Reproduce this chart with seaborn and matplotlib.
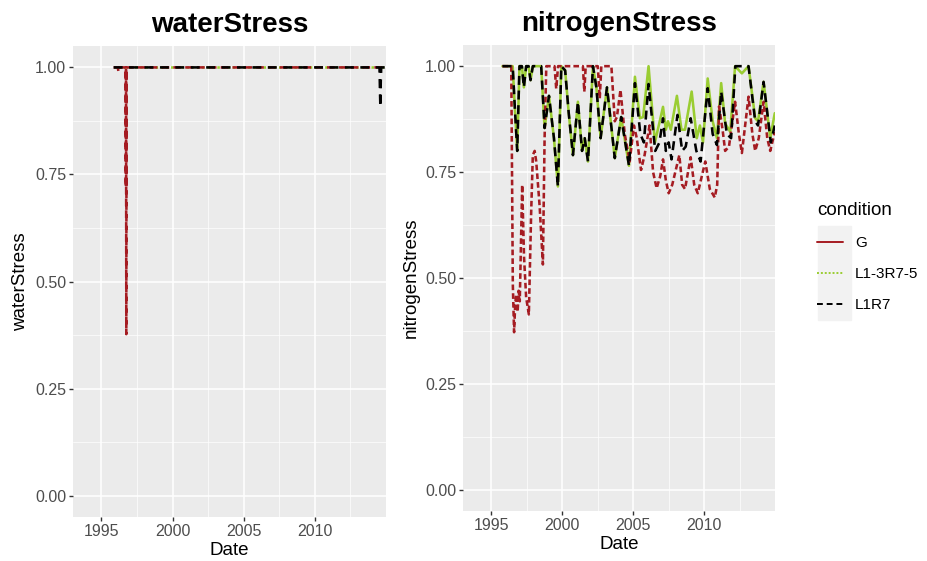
import matplotlib
matplotlib.use("Agg")
import matplotlib.pyplot as plt
from matplotlib.lines import Line2D
from matplotlib.patches import Rectangle
import pandas as pd
import seaborn as sns

conditions = ["G", "L1-3R7-5", "L1R7"]
palette = {"G": "#A51C22", "L1-3R7-5": "#9ACD32", "L1R7": "#000000"}

# --- waterStress ---
water_g_date = [1995.86, 1996.15, 1996.20, 1996.25, 1996.70, 1996.72, 1996.73,
                1996.74, 1996.75, 1996.76, 1996.78, 2014.95]
water_g_val = [1.0, 1.0, 0.99, 1.0, 1.0, 0.72, 1.0, 0.72, 0.377, 0.72, 1.0, 1.0]
water_l135_date = [1995.86, 2014.95]
water_l135_val = [1.0, 1.0]
water_l1r7_date = [1995.86, 2014.55, 2014.58, 2014.61, 2014.64, 2014.67, 2014.95]
water_l1r7_val = [1.0, 1.0, 0.95, 0.908, 0.97, 1.0, 1.0]

# --- nitrogenStress ---
nitro_g_date = [1995.78, 1996.40, 1996.51, 1996.60, 1996.68, 1996.75, 1996.85,
                1996.92, 1997.00, 1997.17, 1997.30, 1997.45, 1997.64, 1997.80,
                1997.92, 1998.05, 1998.16, 1998.40, 1998.63, 1998.75, 1998.87,
                1999.45, 1999.57, 1999.70, 2001.45, 2001.55, 2001.65, 2002.50,
                2002.64, 2002.75, 2003.46, 2003.70, 2003.85, 2004.10, 2004.40,
                2004.75, 2005.05, 2005.25, 2005.55, 2005.80, 2006.15, 2006.40,
                2006.65, 2006.90, 2007.10, 2007.30, 2007.50, 2007.75, 2008.25,
                2008.45, 2008.65, 2009.05, 2009.30, 2009.55, 2010.08, 2010.40,
                2010.75, 2010.92, 2011.05, 2011.30, 2011.48, 2011.75, 2012.18,
                2012.45, 2012.66, 2013.13, 2013.40, 2013.60, 2013.85, 2014.19,
                2014.45, 2014.66, 2014.98]
nitro_g_val = [1.0, 1.0, 0.485, 0.372, 0.44, 0.461, 0.42,
               0.47, 0.445, 0.72, 0.55, 0.454, 0.414, 0.65,
               0.79, 0.80, 0.775, 0.67, 0.532, 0.83, 1.0,
               1.0, 0.947, 1.0, 1.0, 0.94, 1.0, 1.0,
               0.924, 1.0, 1.0, 0.87, 0.88, 0.944, 0.84,
               0.775, 0.86, 0.83, 0.755, 0.79, 0.86, 0.75,
               0.712, 0.74, 0.78, 0.73, 0.70, 0.72, 0.79,
               0.72, 0.71, 0.785, 0.72, 0.70, 0.775, 0.71,
               0.69, 0.72, 0.905, 0.85, 0.80, 0.81, 0.916,
               0.84, 0.795, 0.928, 0.84, 0.80, 0.83, 0.916,
               0.83, 0.80, 0.845]

shared_date = [1995.78, 1996.50, 1996.63, 1996.82, 1996.98, 1997.15, 1997.29,
               1997.45, 1997.62, 1997.76, 1997.92, 1998.51, 1998.75, 1999.06,
               1999.41, 1999.69, 1999.93, 2000.20, 2000.45, 2000.75, 2001.10,
               2001.39, 2001.58, 2001.81, 2002.16, 2002.40, 2002.70, 2003.15,
               2003.70, 2004.15, 2004.70]
shared_val = [1.0, 1.0, 0.916, 0.80, 1.0, 1.0, 0.95,
              1.0, 1.0, 0.967, 1.0, 1.0, 0.854, 0.93,
              0.83, 0.716, 1.0, 0.99, 0.89, 0.79, 0.916,
              0.80, 0.83, 0.775, 1.0, 0.95, 0.83, 0.95,
              0.783, 0.88, 0.765]

nitro_l135_date = shared_date + [2005.12, 2005.47, 2005.70, 2006.08, 2006.53,
                                 2006.80, 2007.10, 2007.30, 2007.45, 2007.65,
                                 2008.08, 2008.40, 2008.65, 2009.12, 2009.48,
                                 2009.70, 2009.92, 2010.25, 2010.60, 2010.90,
                                 2011.20, 2011.48, 2011.84, 2012.18, 2012.66,
                                 2013.13, 2013.60, 2013.80, 2014.19, 2014.66,
                                 2014.98]
nitro_l135_val = shared_val + [0.975, 0.877, 0.88, 1.0, 0.82,
                               0.86, 0.904, 0.85, 0.87, 0.85,
                               0.93, 0.85, 0.85, 0.94, 0.83,
                               0.86, 0.82, 0.971, 0.87, 0.83,
                               0.96, 0.865, 0.845, 1.0, 0.983,
                               1.0, 0.877, 0.87, 0.963, 0.83,
                               0.889]

nitro_l1r7_date = shared_date + [2005.12, 2005.50, 2005.75, 2006.08, 2006.55,
                                 2006.85, 2007.10, 2007.30, 2007.50, 2007.70,
                                 2008.12, 2008.45, 2008.70, 2009.05, 2009.45,
                                 2009.75, 2010.25, 2010.60, 2010.90, 2011.20,
                                 2011.60, 2011.90, 2012.20, 2012.66, 2013.13,
                                 2013.60, 2013.80, 2014.19, 2014.70, 2014.98]
nitro_l1r7_val = shared_val + [0.96, 0.84, 0.82, 0.958, 0.80,
                               0.82, 0.877, 0.80, 0.82, 0.78,
                               0.885, 0.80, 0.81, 0.877, 0.80,
                               0.775, 0.948, 0.84, 0.814, 0.94,
                               0.84, 0.83, 1.0, 1.0, 1.0,
                               0.87, 0.86, 0.963, 0.82, 0.86]


def long_frame(name, series):
    parts = []
    for cond, (d, v) in series.items():
        parts.append(pd.DataFrame({"Date": d, name: v, "condition": cond}))
    return pd.concat(parts, ignore_index=True)


water = long_frame("waterStress", {
    "L1-3R7-5": (water_l135_date, water_l135_val),
    "G": (water_g_date, water_g_val),
    "L1R7": (water_l1r7_date, water_l1r7_val),
})
nitro = long_frame("nitrogenStress", {
    "L1-3R7-5": (nitro_l135_date, nitro_l135_val),
    "G": (nitro_g_date, nitro_g_val),
    "L1R7": (nitro_l1r7_date, nitro_l1r7_val),
})

sns.set_style("darkgrid", {"axes.facecolor": "#EBEBEB", "grid.color": "white"})
plt.rcParams["font.family"] = ["Liberation Sans", "DejaVu Sans"]
plt.rcParams["text.color"] = "black"
plt.rcParams["axes.labelcolor"] = "black"

fig = plt.figure(figsize=(9.27, 5.61), dpi=100)
ax1 = fig.add_axes([0.0787, 0.0784, 0.3376, 0.8396])
ax2 = fig.add_axes([0.4995, 0.0891, 0.3366, 0.8307])

order = ["L1-3R7-5", "G", "L1R7"]
water_dashes = {"G": (3, 1.6), "L1-3R7-5": (1, 1), "L1R7": (3.5, 2.5)}
nitro_dashes = {"G": (2.2, 1.2), "L1-3R7-5": "", "L1R7": (3.5, 2.2)}

for ax, df, col, dashes in [(ax1, water, "waterStress", water_dashes),
                            (ax2, nitro, "nitrogenStress", nitro_dashes)]:
    sns.lineplot(data=df, x="Date", y=col, hue="condition", style="condition",
                 hue_order=order, style_order=order, palette=palette,
                 dashes=dashes, estimator=None, linewidth=1.85, legend=False, ax=ax)
    ax.set_xlim(1993.0, 2015.0)
    ax.set_ylim(-0.05, 1.05)
    ax.set_xticks([1995, 2000, 2005, 2010])
    ax.set_xticks([1997.5, 2002.5, 2007.5, 2012.5], minor=True)
    ax.set_yticks([0, 0.25, 0.5, 0.75, 1.0])
    ax.set_yticklabels(["0.00", "0.25", "0.50", "0.75", "1.00"])
    ax.set_yticks([0.125, 0.375, 0.625, 0.875], minor=True)
    ax.grid(which="major", color="white", linewidth=1.1)
    ax.grid(which="minor", color="white", linewidth=0.5)
    ax.set_axisbelow(True)
    for s in ax.spines.values():
        s.set_visible(False)
    ax.tick_params(which="major", bottom=True, left=True, length=3, width=1,
                   color="#333333", labelcolor="#4D4D4D", labelsize=11.5, pad=2)
    ax.tick_params(which="minor", bottom=False, left=False, length=0)
    ax.set_title(col, fontsize=20, fontweight="bold", pad=10)
    ax.set_xlabel("Date", fontsize=13.5, labelpad=2)
    ax.set_ylabel(col, fontsize=13.5, labelpad=4)

handles = [Line2D([], [], color=palette["G"], lw=1.4, ls="-"),
           Line2D([], [], color=palette["L1-3R7-5"], lw=1.4, ls=(0, (1, 1))),
           Line2D([], [], color=palette["L1R7"], lw=1.4, ls=(0, (3, 2)))]
fig.add_artist(Rectangle((818 / 927, 1 - 320 / 561), 33 / 927, 94 / 561,
                         transform=fig.transFigure, color="#F2F2F2", zorder=0))
fig.legend(handles, conditions, title="condition", loc="upper left",
           bbox_to_anchor=(803 / 927, 1 - 188 / 561), frameon=False,
           fontsize=11, title_fontsize=13.5, handlelength=1.7,
           labelspacing=1.12, alignment="left")

fig.savefig("out.png", dpi=100)
